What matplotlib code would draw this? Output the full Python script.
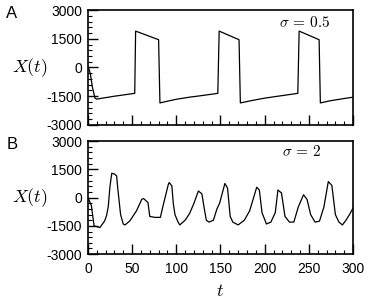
import numpy as np
import matplotlib
matplotlib.use("Agg")
import matplotlib.pyplot as plt
from matplotlib.ticker import MultipleLocator

plt.rcParams['font.family'] = ['Liberation Sans', 'DejaVu Sans']
plt.rcParams['mathtext.fontset'] = 'cm'

# panel A, sigma = 0.5 (relaxation-like oscillation)
tA = [0, 1.5, 3, 5, 8, 10, 30, 53, 54, 80, 81.5, 90, 100, 115, 130, 147,
      148.5, 171, 172.5, 185, 200, 215, 237.5, 239, 261.6, 263, 275, 290, 300]
xA = [0, -100, -400, -1000, -1600, -1650, -1500, -1350, 1900, 1450, -1850,
      -1760, -1660, -1550, -1460, -1350, 1900, 1450, -1850, -1730, -1600,
      -1500, -1350, 1900, 1450, -1850, -1730, -1620, -1550]

# panel B, sigma = 2 (noisy oscillation)
tB = [0, 1.5, 4, 7, 13.6, 19, 21, 23, 25, 27, 30, 32.5, 34, 37, 40, 42,
      47.5, 55, 61, 63, 68, 70, 76, 82, 85, 91, 92, 95, 96.6, 98.5, 102, 104,
      110, 115, 120, 125, 129, 131, 134, 137, 142, 146, 149, 155, 158, 161,
      164, 170, 177, 183, 191, 194, 197, 202, 207, 212, 215, 219, 223, 228,
      233, 238, 244, 248, 252, 257, 262, 267, 272, 276, 280, 284, 288, 292,
      296, 300]
xB = [0, -150, -440, -1500, -1590, -1235, -970, -500, 600, 1290, 1250, 1150,
      400, -900, -1400, -1450, -1235, -700, -90, -50, -265, -1000, -1050,
      -1050, -440, 700, 800, 620, -300, -900, -1300, -1450, -1200, -850, -300,
      350, 200, -400, -1200, -1300, -1200, -600, -300, 750, 500, -1000, -1300,
      -1450, -1200, -700, 550, 400, -800, -1400, -1300, -800, 400, 250, -1000,
      -1300, -1300, -500, 150, -100, -900, -1300, -1250, -500, 850, 650, -900,
      -1300, -1450, -1200, -900, -550]

fig = plt.figure(figsize=(3.74, 3.04), dpi=100)
axA = fig.add_axes([0.235, 0.589, 0.709, 0.378])
axB = fig.add_axes([0.235, 0.164, 0.709, 0.372])

for ax, t, x, lab, sig, sx, sy in [(axA, tA, xA, 'A', r'$\sigma\,=\,0.5$', 0.915, 0.89),
                                   (axB, tB, xB, 'B', r'$\sigma\,=\,2$', 0.88, 0.905)]:
    ax.plot(t, x, color='black', lw=0.9)
    ax.set_xlim(0, 300)
    ax.set_ylim(-3000, 3000)
    ax.set_yticks([-3000, -1500, 0, 1500, 3000])
    ax.set_yticklabels(['-3000', '-1500', '0', '1500', '3000'])
    ax.xaxis.set_major_locator(MultipleLocator(50))
    ax.xaxis.set_minor_locator(MultipleLocator(10))
    ax.yaxis.set_minor_locator(MultipleLocator(300))
    ax.tick_params(which='major', direction='in', length=7, width=1,
                   labelsize=10, pad=4)
    ax.tick_params(axis='x', which='major', pad=6)
    ax.tick_params(which='minor', direction='in', length=3, width=0.8)
    for s in ax.spines.values():
        s.set_linewidth(1.2)
    ax.set_ylabel(r'$X(t)$', rotation=0, fontsize=13, labelpad=12, va='center')
    ax.text(sx, sy, sig, transform=ax.transAxes, ha='right', va='center',
            fontsize=11)
    fig.text(0.032, ax.get_position().y1 - 0.012, lab, fontsize=12,
             ha='center', va='center')

axA.tick_params(labelbottom=False)
axB.set_xlabel(r'$t$', fontsize=13, labelpad=5)

fig.savefig('out.png', dpi=100)
